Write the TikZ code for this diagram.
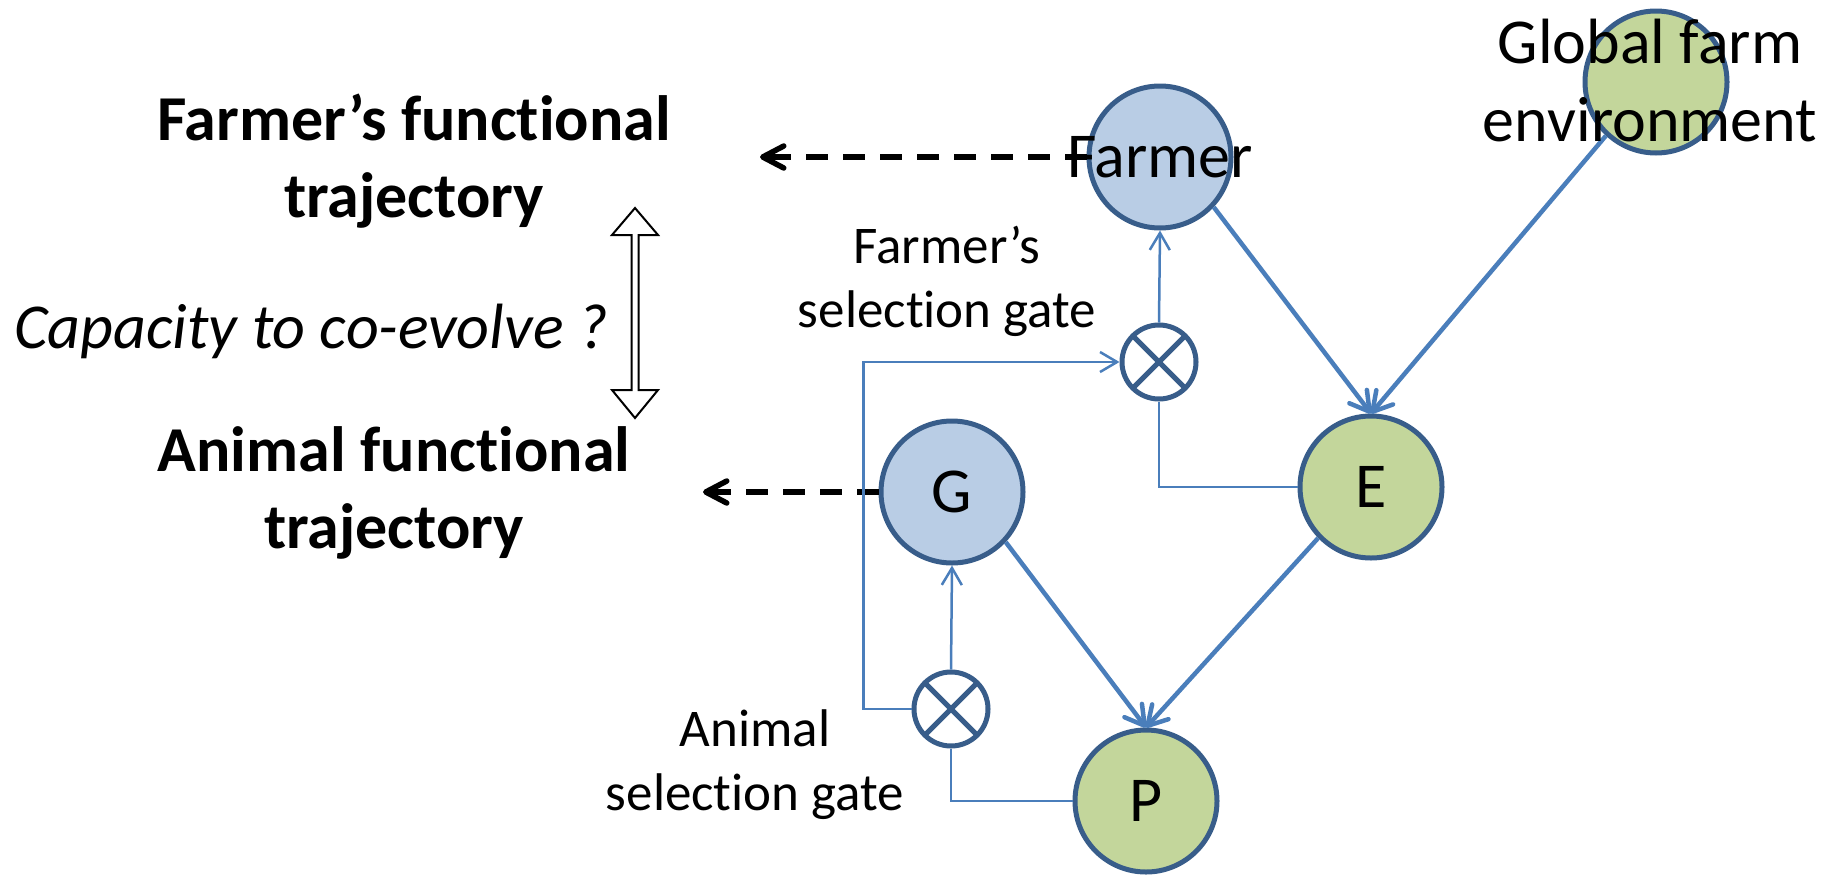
\documentclass[tikz,border=0pt]{standalone}
\usepackage{fontspec}
\setmainfont{Carlito}[Ligatures=NoCommon]
\usetikzlibrary{arrows.meta}
\definecolor{nodeblue}{HTML}{B9CDE5}
\definecolor{nodegreen}{HTML}{C3D69B}
\definecolor{rimblue}{HTML}{385D8A}
\definecolor{lineblue}{HTML}{4A7EBB}
\begin{document}
\begin{tikzpicture}[x=1pt,y=-1pt,
  bigcirc/.style={circle, draw=rimblue, line width=5pt, minimum size=142pt, inner sep=0pt},
  bluecirc/.style={bigcirc, fill=nodeblue},
  greencirc/.style={bigcirc, fill=nodegreen},
  gate/.style={circle, draw=rimblue, fill=white, line width=5pt, minimum size=74pt, inner sep=0pt},
  gatecross/.style={draw=rimblue, line width=5pt, shorten >=2.8pt, shorten <=2.8pt},
  letter/.style={font=\fontsize{64}{76}\selectfont, inner sep=0pt},
  twoline/.style={font=\fontsize{64}{78}\selectfont, align=center, anchor=base, inner sep=0pt},
  title/.style={font=\fontsize{64}{77}\selectfont\bfseries, align=center, anchor=base, inner sep=0pt},
  question/.style={font=\fontsize{64}{76}\selectfont\itshape, anchor=base, inner sep=0pt},
  gatelabel/.style={font=\fontsize{53}{64}\selectfont, align=center, anchor=base, inner sep=0pt},
  flow/.style={draw=lineblue, line width=4.5pt, -{Straight Barb[length=19pt,width=22pt,round]}},
  feedback/.style={draw=lineblue, line width=2.5pt},
  feedarrow/.style={feedback, -{Straight Barb[length=17pt,width=20pt]}},
  traj/.style={draw=black, line width=5.5pt, dash pattern=on 22pt off 15pt, -{Straight Barb[length=21pt,width=22pt,round]}},
  hollow/.style={draw=black, line width=2pt, fill=white, line join=miter}
]
\useasboundingbox (0,0) rectangle (1837,876);

% main circles
\node[bluecirc] (farmer) at (1160,157) {};
\node[greencirc] (gfe) at (1656,82) {};
\node[greencirc] (E) at (1371,487) {};
\node[bluecirc] (G) at (952,492) {};
\node[greencirc] (P) at (1146,801) {};

% selection gates
\node[gate] (fg) at (1159,362) {};
\node[gate] (ag) at (951,709) {};
\draw[gatecross] (fg.45) -- (fg.225);
\draw[gatecross] (fg.135) -- (fg.-45);
\draw[gatecross] (ag.45) -- (ag.225);
\draw[gatecross] (ag.135) -- (ag.-45);

% causal flows
\draw[flow] (farmer.-43) -- (E.north);
\draw[flow] (gfe.-133) -- (E.north);
\draw[flow] (G.-43) -- (P.north);
\draw[flow] (E.-136) -- (P.north);

% trajectories (dashed)
\coordinate (ftip) at (760,157);
\coordinate (atip) at (703,492);
\draw[traj] (farmer.west) -- (ftip);
\draw[traj] (G.west) -- (atip);

% feedback loops
\draw[feedarrow] (fg.north) -- (farmer.south);
\draw[feedback] (E.west) -| (fg.south);
\draw[feedarrow] (ag.north) -- (G.south);
\draw[feedback] (P.west) -| (ag.south);
\draw[feedarrow] (ag.west) -- ++(-48,0) |- (fg.west);

% co-evolution double arrow
\coordinate (coevo) at (635,313);
\draw[hollow] (coevo) ++(0,-105) -- ++(23,27) -- ++(-19.5,0) -- ++(0,155)
  -- ++(19.5,0) -- ++(-23,28) -- ++(-23,-28) -- ++(19.5,0) -- ++(0,-155)
  -- ++(-19.5,0) -- cycle;

% texts
\node[letter] (farmerlbl) at (farmer.center) {Farmer};
\node[twoline] (gfelbl) at (1650,141) {Global farm\\environment};
\node[letter] (Elbl) at (E.center) {E};
\node[letter] (Glbl) at (G.center) {G};
\node[letter] (Plbl) at (P.center) {P};
\node[title] (ftitle) at (414,217) {Farmer’s functional\\trajectory};
\node[title] (atitle) at (394,548) {Animal functional\\trajectory};
\node[question] (capacity) at (311,348) {Capacity to co-evolve ?};
\node[gatelabel] (fglbl) at (947,327) {Farmer’s\\selection gate};
\node[gatelabel] (aglbl) at (755,810) {Animal\\selection gate};
\end{tikzpicture}
\end{document}
